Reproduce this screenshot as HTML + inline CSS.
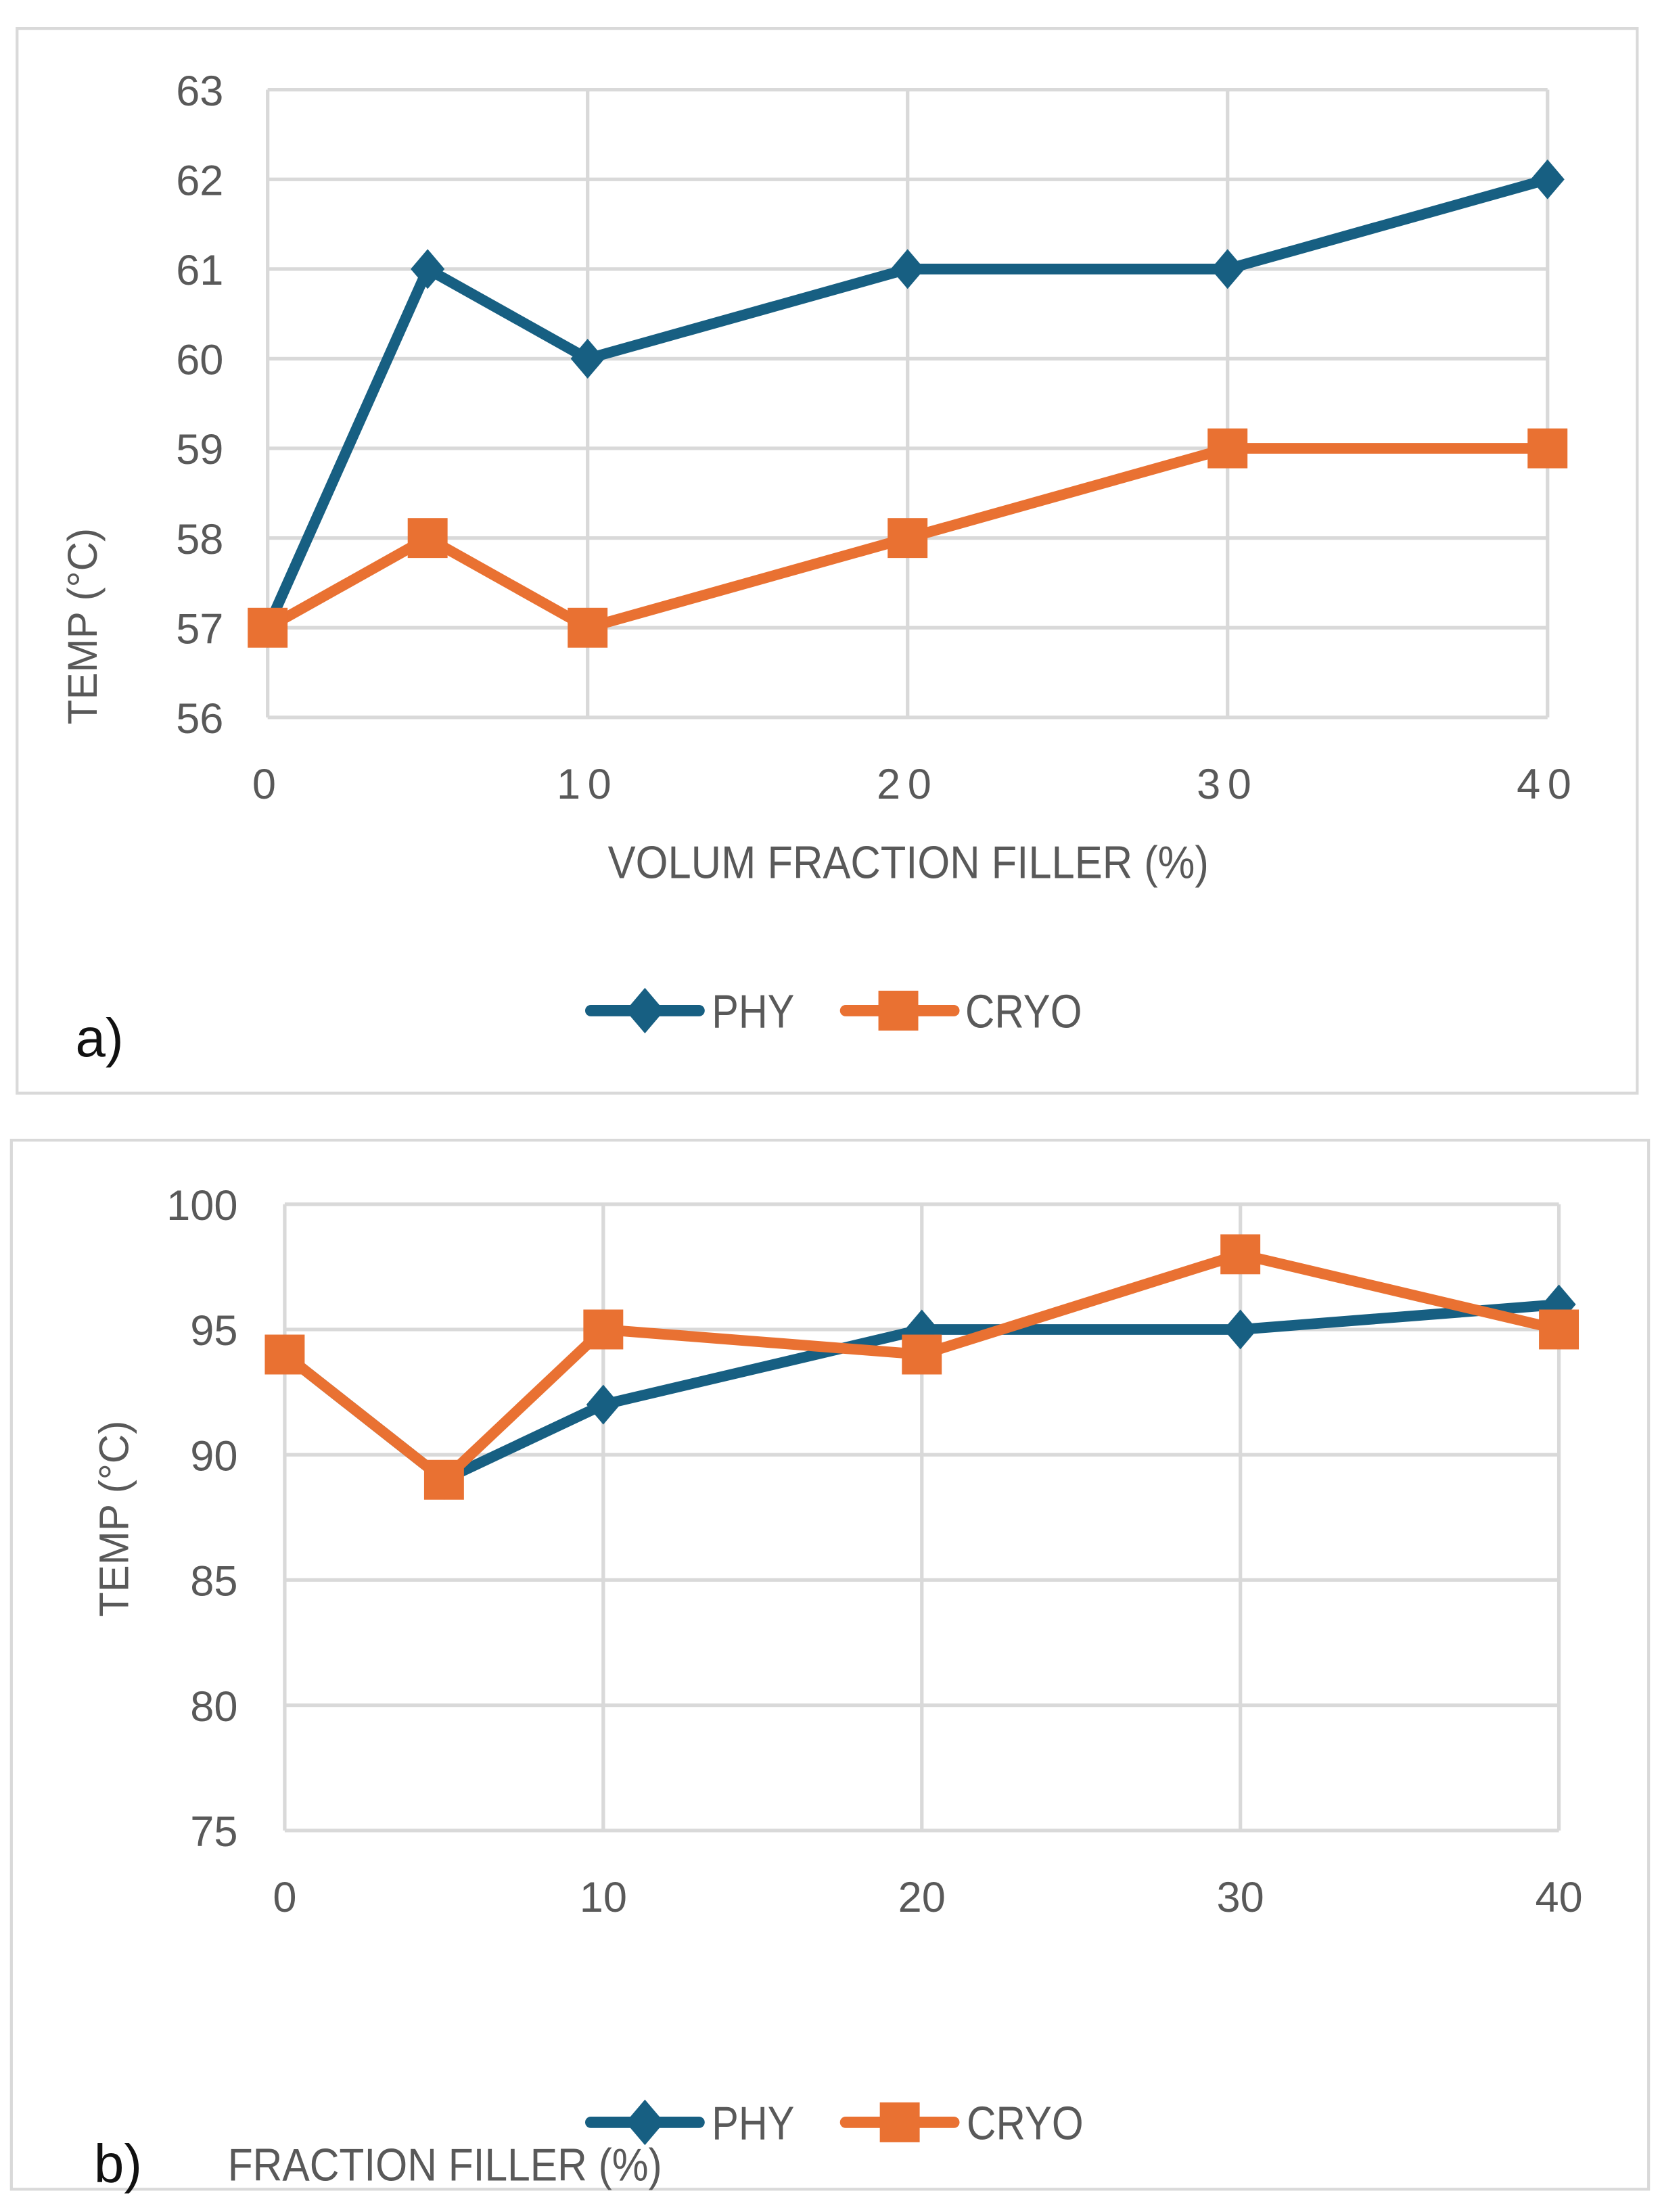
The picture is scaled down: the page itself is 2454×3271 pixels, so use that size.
<!DOCTYPE html>
<html><head><meta charset="utf-8">
<style>
html,body{margin:0;padding:0;background:#fff;}
svg{display:block;}
text{font-family:"Liberation Sans",sans-serif;fill:#595959;}
</style></head>
<body>
<svg id="fig" width="2454" height="3271" viewBox="0 0 1166 1554" preserveAspectRatio="none">
<rect x="12" y="20" width="1138" height="748" fill="#fff" stroke="#d9d9d9" stroke-width="2"/>
<rect x="8" y="801" width="1150" height="737" fill="#fff" stroke="#d9d9d9" stroke-width="2"/>
<g id="ga"></g>
<g id="gb"></g>
</svg>
<script>
const xValues = [0, 5, 10, 20, 30, 40];
const xTicks = [0, 10, 20, 30, 40];
const aPhy = [57, 61, 60, 61, 61, 62];
const aCryo = [57, 58, 57, 58, 59, 59];
const aYTicks = [56, 57, 58, 59, 60, 61, 62, 63];
const bPhy = [94, 89, 92, 95, 95, 96];
const bCryo = [94, 89, 95, 94, 98, 95];
const bYTicks = [75, 80, 85, 90, 95, 100];

const NS = "http://www.w3.org/2000/svg";
const BLUE = "#175f82", ORANGE = "#e97132";
function mk(parent, tag, attrs, txt) {
  const e = document.createElementNS(NS, tag);
  for (const k in attrs) e.setAttribute(k, attrs[k]);
  if (txt !== undefined) e.textContent = txt;
  parent.appendChild(e);
  return e;
}
function diamond(g, x, y, r) {
  return mk(g, "polygon", {points: `${x},${y-r} ${x+r*0.85},${y} ${x},${y+r} ${x-r*0.85},${y}`, fill: BLUE});
}
function square(g, x, y, s) {
  return mk(g, "rect", {x: x - s/2, y: y - s/2, width: s, height: s, fill: ORANGE});
}
function chart(g, cfg) {
  const sx = v => cfg.x0 + (v - 0) / 40 * (cfg.x1 - cfg.x0);
  const sy = v => cfg.y0 + (v - cfg.ymin) / (cfg.ymax - cfg.ymin) * (cfg.y1 - cfg.y0);
  cfg.yTicks.forEach(t => {
    const l = mk(g, "line", {x1: cfg.x0, x2: cfg.x1, y1: sy(t), y2: sy(t), stroke: "#d9d9d9", "stroke-width": 2.5});
    
    
    const tx = mk(g, "text", {x: cfg.yLabX, y: sy(t) + 11, "text-anchor": "end", "font-size": 30}, String(t));
    
    
  });
  cfg.xTicks.forEach(t => {
    const l = mk(g, "line", {x1: sx(t), x2: sx(t), y1: cfg.y0, y2: cfg.y1, stroke: "#d9d9d9", "stroke-width": 2.5});
    
    
    const tx = mk(g, "text", {x: sx(t), y: cfg.xLabY, "text-anchor": "middle", "font-size": 30, "letter-spacing": cfg.ls}, String(t));
    
    
  });
  cfg.order.forEach(s => {
    const vals = s === "phy" ? cfg.phy : cfg.cryo;
    const col = s === "phy" ? BLUE : ORANGE;
    const pts = xValues.map((x, i) => sx(x) + "," + sy(vals[i])).join(" ");
    const pl = mk(g, "polyline", {points: pts, fill: "none", stroke: col, "stroke-width": 7.5, "stroke-linejoin": "round"});
    
    
    xValues.forEach((x, i) => {
      const m = s === "phy" ? diamond(g, sx(x), sy(vals[i]), 14) : square(g, sx(x), sy(vals[i]), 28);
      
      
    });
  });
  const yt = mk(g, "text", {x: 0, y: 0, "text-anchor": "middle", "font-size": 29, textLength: 138, lengthAdjust: "spacingAndGlyphs", transform: `translate(${cfg.yTitleX},${cfg.yTitleY}) rotate(-90)`}, "TEMP (°C)");
  
  
  const ly = cfg.legY;
  const l1 = mk(g, "line", {x1: 415, x2: 491, y1: ly, y2: ly, stroke: BLUE, "stroke-width": 8, "stroke-linecap": "round"});
  
  
  const d1 = diamond(g, 453, ly, 16);
  
  
  const t1 = mk(g, "text", {x: 500, y: ly + 12, "font-size": 33, textLength: 58, lengthAdjust: "spacingAndGlyphs"}, "PHY");
  
  
  const l2 = mk(g, "line", {x1: 594, x2: 670, y1: ly, y2: ly, stroke: ORANGE, "stroke-width": 8, "stroke-linecap": "round"});
  
  
  const s2 = square(g, cfg.legSq, ly, 28);
  
  
  const t2 = mk(g, "text", {x: cfg.legSq + 47, y: ly + 12, "font-size": 33, textLength: 82, lengthAdjust: "spacingAndGlyphs"}, "CRYO");
  
  
}
const ga = document.getElementById("ga");
chart(ga, {x0: 188, x1: 1087, y0: 504, y1: 63, ymin: 56, ymax: 63, yTicks: aYTicks, xTicks: xTicks,
  phy: aPhy, cryo: aCryo, order: ["phy", "cryo"], yLabX: 157, xLabY: 561, ls: 5,
  yTitleX: 68, yTitleY: 440, legY: 710, legSq: 631});
const xa = mk(ga, "text", {x: 427, y: 617, "font-size": 32, textLength: 422, lengthAdjust: "spacingAndGlyphs"}, "VOLUM FRACTION FILLER (%)");


const la = mk(ga, "text", {x: 53, y: 742, "font-size": 38, style: "fill:#111"}, "a)");



const gb = document.getElementById("gb");
chart(gb, {x0: 200, x1: 1095, y0: 1286, y1: 846, ymin: 75, ymax: 100, yTicks: bYTicks, xTicks: xTicks,
  phy: bPhy, cryo: bCryo, order: ["phy", "cryo"], yLabX: 167, xLabY: 1343, ls: 0,
  yTitleX: 90, yTitleY: 1067, legY: 1491, legSq: 632});
const xb = mk(gb, "text", {x: 160, y: 1532, "font-size": 32, textLength: 305, lengthAdjust: "spacingAndGlyphs"}, "FRACTION FILLER (%)");


const lb = mk(gb, "text", {x: 66, y: 1533, "font-size": 38, style: "fill:#111"}, "b)");


</script>
</body></html>
